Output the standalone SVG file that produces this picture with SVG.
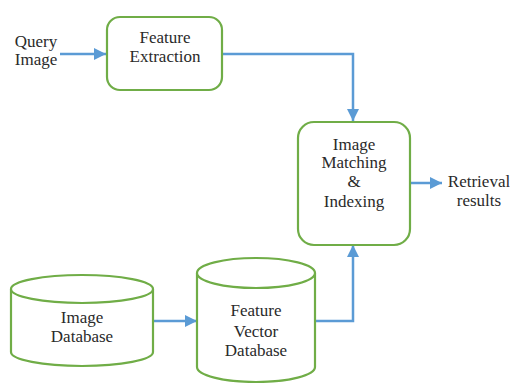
<svg xmlns="http://www.w3.org/2000/svg" width="510" height="383" viewBox="0 0 510 383">
<defs>
<style>
.box{fill:#fff;stroke:#70AD47;stroke-width:2.2}
.t{font-family:'Liberation Serif','Times New Roman','DejaVu Serif',serif;font-size:17px;fill:#2a2a2a;text-anchor:middle}
.c{fill:none;stroke:#5B9BD5;stroke-width:2.5}
</style>
<marker id="ah" viewBox="0 0 12 12" refX="12" refY="6" markerWidth="12" markerHeight="12" markerUnits="userSpaceOnUse" orient="auto">
<path d="M0,0 L12,6 L0,12 Z" fill="#5B9BD5"/>
</marker>
</defs>
<rect width="510" height="383" fill="#fff"/>
<g id="connectors">
<path class="c" d="M60,54 H106" marker-end="url(#ah)"/>
<path class="c" d="M222,54 H353 V121" marker-end="url(#ah)"/>
<path class="c" d="M410,183 H442" marker-end="url(#ah)"/>
<path class="c" d="M153,321 H197" marker-end="url(#ah)"/>
<path class="c" d="M315,321 H353 V245" marker-end="url(#ah)"/>
</g>
<g font-family="Liberation Serif, Times New Roman, serif">
<g id="query">
<text class="t" x="36" y="47">Query</text>
<text class="t" x="36" y="65">Image</text>
</g>
<g id="feature-extraction">
<rect class="box" x="107" y="17" width="115" height="73" rx="13"/>
<text class="t" x="165" y="43">Feature</text>
<text class="t" x="165" y="62">Extraction</text>
</g>
<g id="matching">
<rect class="box" x="298" y="122" width="112" height="123" rx="16"/>
<text class="t" x="354" y="150">Image</text>
<text class="t" x="354" y="168">Matching</text>
<text class="t" x="354" y="187">&amp;</text>
<text class="t" x="354" y="207">Indexing</text>
</g>
<g id="results">
<text class="t" x="479" y="187">Retrieval</text>
<text class="t" x="479" y="206">results</text>
</g>
<g id="image-db">
<path class="box" d="M11,289 V352 A71,14 0 0 0 153,352 V289"/>
<ellipse class="box" cx="82" cy="289" rx="71" ry="14"/>
<text class="t" x="82" y="323">Image</text>
<text class="t" x="82" y="342">Database</text>
</g>
<g id="fv-db">
<path class="box" d="M197,273 V367 A59,15 0 0 0 315,367 V273"/>
<ellipse class="box" cx="256" cy="273" rx="59" ry="15"/>
<text class="t" x="256" y="316">Feature</text>
<text class="t" x="256" y="337">Vector</text>
<text class="t" x="256" y="356">Database</text>
</g>
</g>
</svg>
